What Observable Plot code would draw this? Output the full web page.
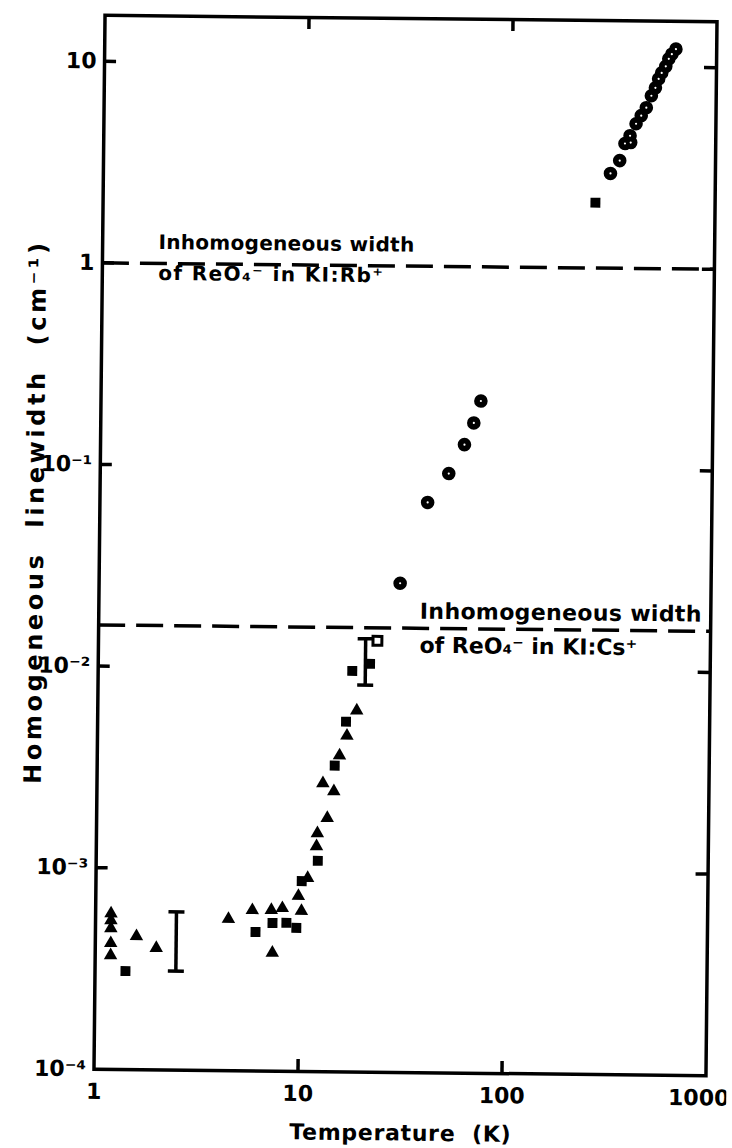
<!DOCTYPE html>
<html>
<head>
<meta charset="utf-8">
<script src="https://cdn.jsdelivr.net/npm/d3@7"></script>
<script src="https://cdn.jsdelivr.net/npm/@observablehq/plot@0.6"></script>
<style>
  html, body { margin: 0; padding: 0; background: #fff; }
  #chart { width: 732px; height: 1148px; overflow: hidden; background: #fff; }
  #chart svg { display: block; transform: rotate(0.6deg); transform-origin: 405px 545px; }
</style>
</head>
<body>
<div id="chart"></div>
<script>
// Homogeneous linewidth of ReO4- vs temperature (log-log)

// dotted circles
const circleT = [29.9, 40.4, 51.1, 60.8, 67.4, 72.8,
  306, 339, 359, 380, 383, 406, 430, 455, 481, 503, 521, 539, 564, 583, 603, 631];
const circleW = [0.0267, 0.0674, 0.094, 0.131, 0.168, 0.216,
  2.95, 3.42, 4.16, 4.55, 4.21, 5.22, 5.73, 6.28, 7.2, 7.89, 8.74, 9.36, 10.1, 11.0, 11.6, 12.3];

// filled squares
const squareT = [259, 21.5, 17.6, 16.5, 14.6, 12.2, 10.2, 7.37, 8.62, 9.65, 6.09, 1.41];
const squareW = [2.11, 0.0106, 0.00975, 0.00546, 0.0033, 0.00111, 0.000879, 0.000543, 0.000545, 0.000515, 0.000489, 0.000308];

// open square
const openSquareT = [23.3];
const openSquareW = [0.0138];

// filled triangles
const triangleT = [18.6, 16.7, 15.4, 12.8, 14.5, 13.5, 12.1, 12.0, 10.9, 9.84, 10.2, 8.22, 7.26, 5.86, 7.38, 4.48,
  1.19, 1.19, 1.19, 1.19, 1.19, 1.59, 1.99];
const triangleW = [0.0062, 0.00465, 0.00371, 0.00269, 0.00246, 0.00181, 0.00152, 0.00131, 0.00091, 0.000741, 0.000625,
  0.000644, 0.000629, 0.000627, 0.000386, 0.000565, 0.000594, 0.000549, 0.000501, 0.000423, 0.000368, 0.000459, 0.000402];

// error bars
const errT = [2.49, 20.4];
const errLow = [0.00031, 0.0083];
const errHigh = [0.00061, 0.0141];

// inhomogeneous widths (dashed levels)
const inhomLevels = [1.0, 0.016];

// axis ticks
const xTicks = [1, 10, 100, 1000];
const xTickLabels = ["1", "10", "100", "1000"];
const yTicks = [10, 1, 0.1, 0.01, 0.001, 0.0001];
const yTickLabels = ["10", "1", "10⁻¹", "10⁻²", "10⁻³", "10⁻⁴"];

const xDomain = [1, 1000];
const yDomain = [1e-4, 16.9];

const rows = (T, W) => T.map((t, i) => ({T: t, W: W[i]}));
const circles = rows(circleT, circleW);
const squares = rows(squareT, squareW);
const openSquares = rows(openSquareT, openSquareW);
const triangles = rows(triangleT, triangleW);
const errBars = errT.map((t, i) => ({T: t, lo: errLow[i], hi: errHigh[i]}));
const errCaps = errBars.flatMap(d => [{T: d.T, W: d.lo}, {T: d.T, W: d.hi}]);

const xLabel = new Map(xTicks.map((t, i) => [t, xTickLabels[i]]));
const yLabel = new Map(yTicks.map((t, i) => [t, yTickLabels[i]]));
const innerX = xTicks.slice(1, -1);
const innerY = yTicks.slice(0, -1);

// layout
const W = 732, H = 1148;
const margin = {top: 18, right: 21, bottom: 76, left: 99};
const frameW = W - margin.left - margin.right;
const frameH = H - margin.top - margin.bottom;
const tickLen = 12;

// error-bar cap drawn as a dot symbol
const capSymbol = {draw(c) { c.moveTo(-8, 0); c.lineTo(8, 0); }};
const ink = {stroke: "#000", strokeWidth: 3.5};

const font = "'DejaVu Sans', sans-serif";
const tag = name => ({ariaLabel: () => name});

const chart = Plot.plot({
  width: W,
  height: H,
  marginTop: margin.top,
  marginRight: margin.right,
  marginBottom: margin.bottom,
  marginLeft: margin.left,
  x: {type: "log", domain: xDomain, label: null},
  y: {type: "log", domain: yDomain, label: null},
  style: {fontFamily: font, background: "#fff", color: "#000"},
  marks: [
    Plot.frame({stroke: "#000", strokeWidth: 3.5}),

    // inward tick marks on all four sides
    Plot.ruleX(innerX, {x: d => d, insetTop: frameH - tickLen, ...ink}),
    Plot.ruleX(innerX, {x: d => d, insetBottom: frameH - tickLen, ...ink}),
    Plot.ruleY(innerY, {y: d => d, insetRight: frameW - tickLen, ...ink}),
    Plot.ruleY(innerY, {y: d => d, insetLeft: frameW - tickLen, ...ink}),

    // tick labels
    Plot.axisX(xTicks.slice(0, -1), {anchor: "bottom", tickSize: 0, tickPadding: 14, tickFormat: d => xLabel.get(d),
      fontSize: 22, fontWeight: "bold", label: null}),
    Plot.axisX(xTicks.slice(-1), {anchor: "bottom", tickSize: 0, tickPadding: 14, tickFormat: d => xLabel.get(d),
      fontSize: 22, fontWeight: "bold", label: null, dx: -7}),
    Plot.axisY(yTicks, {anchor: "left", tickSize: 0, tickPadding: 8, tickFormat: d => yLabel.get(d),
      fontSize: 22, fontWeight: "bold", label: null}),

    // inhomogeneous widths
    Plot.ruleY(inhomLevels, {stroke: "#000", strokeWidth: 3.5, strokeDasharray: "27,11"}),

    // error bars
    Plot.ruleX(errBars, {x: "T", y1: "lo", y2: "hi", ...ink}),
    Plot.dot(errCaps, {x: "T", y: "W", symbol: capSymbol, fill: "none", ...ink}),

    // data
    Plot.dot(circles, {x: "T", y: "W", r: 6.8, fill: "#000"}),
    Plot.dot(circles, {x: "T", y: "W", r: 1.1, fill: "#fff"}),
    Plot.dot(squares, {x: "T", y: "W", symbol: "square", r: 5.6, fill: "#000"}),
    Plot.dot(openSquares, {x: "T", y: "W", symbol: "square", r: 5, fill: "#fff", stroke: "#000", strokeWidth: 3}),
    Plot.dot(triangles, {x: "T", y: "W", symbol: "triangle", r: 5, fill: "#000"}),

    // annotations
    Plot.text(["Inhomogeneous width"], {x: 1.88, y: 1.18, textAnchor: "start", lineAnchor: "bottom",
      fontSize: 20, fontWeight: "bold", ...tag("note-rb-1")}),
    Plot.text(["of ReO₄⁻ in KI:Rb⁺"], {x: 1.88, y: 0.829, textAnchor: "start", lineAnchor: "bottom",
      fontSize: 20, fontWeight: "bold", ...tag("note-rb-2")}),
    Plot.text(["Inhomogeneous width"], {x: 37.5, y: 0.01786, textAnchor: "start", lineAnchor: "bottom",
      fontSize: 22, fontWeight: "bold", ...tag("note-cs-1")}),
    Plot.text(["of ReO₄⁻ in KI:Cs⁺"], {x: 37.5, y: 0.0121, textAnchor: "start", lineAnchor: "bottom",
      fontSize: 22, fontWeight: "bold", ...tag("note-cs-2")}),

    // axis titles
    Plot.text(["Temperature  (K)"], {frameAnchor: "bottom", dx: 1, dy: 61, textAnchor: "middle", lineAnchor: "middle",
      fontSize: 22, fontWeight: "bold", ...tag("title-x")}),
    Plot.text(["Homogeneous  linewidth  (cm⁻¹)"], {frameAnchor: "left", dx: -64, dy: -30, rotate: -90,
      textAnchor: "middle", lineAnchor: "middle", fontSize: 24, fontWeight: "bold", ...tag("title-y")})
  ]
});

// widen the lettering of some texts
const spacing = {"note-rb-1": "0.3px", "note-rb-2": "1.4px", "note-cs-1": "0.35px", "title-y": "3.6px", "title-x": "0.7px"};
for (const [key, ls] of Object.entries(spacing)) {
  d3.select(chart).selectAll(`[aria-label="${key}"]`).style("letter-spacing", ls);
}

document.getElementById("chart").append(chart);
</script>
</body>
</html>
